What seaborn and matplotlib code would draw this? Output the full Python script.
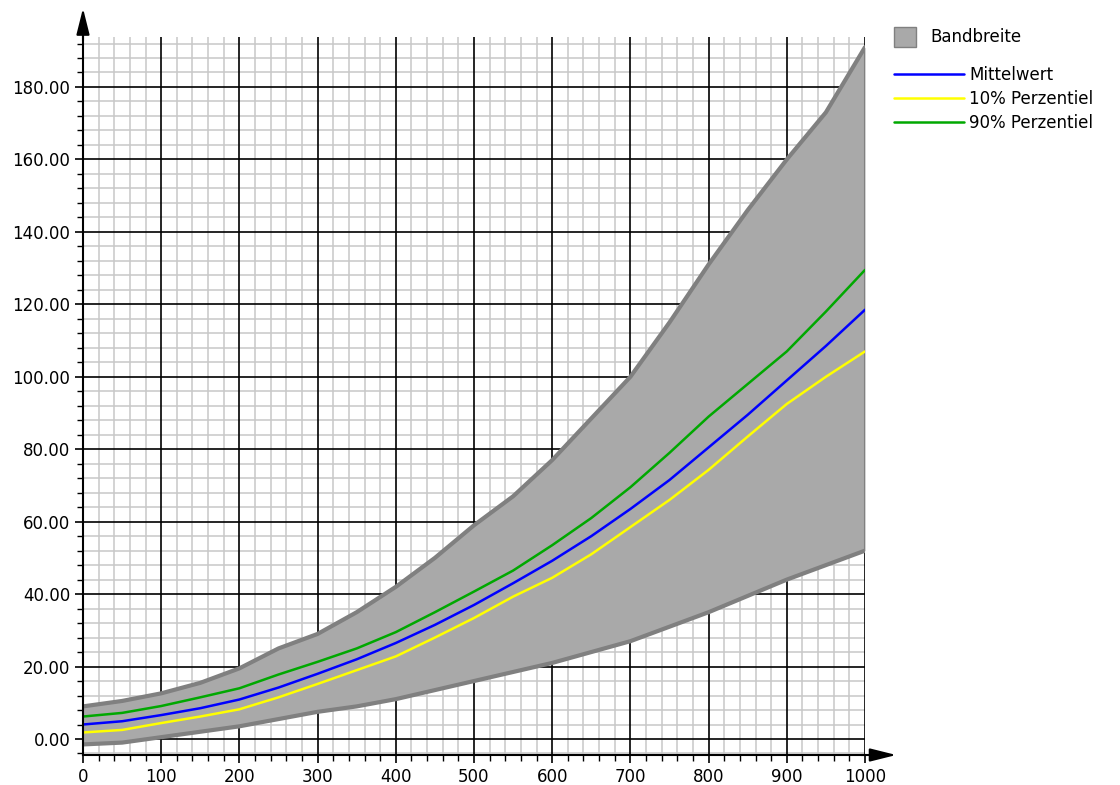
import numpy as np
import pandas as pd
import matplotlib
matplotlib.use("Agg")
import matplotlib.pyplot as plt
from matplotlib.ticker import MultipleLocator, FormatStrFormatter
from matplotlib.patches import Patch
from matplotlib.lines import Line2D
import seaborn as sns

# ------------------------------------------ DATA ------------------------------------------#
x_vals = [0, 50, 100, 150, 200, 250, 300, 350, 400, 450, 500,
          550, 600, 650, 700, 750, 800, 850, 900, 950, 1000]
mittelwert = [4.0, 4.9, 6.6, 8.5, 10.9, 14.2, 18.0, 22.0, 26.5, 31.5, 37.0,
              43.0, 49.2, 56.0, 63.5, 71.5, 80.5, 89.5, 99.0, 108.5, 118.5]
perz_90 = [6.2, 7.2, 9.1, 11.5, 14.0, 17.8, 21.3, 25.0, 29.5, 35.0, 40.7,
           46.5, 53.5, 61.0, 69.5, 79.0, 89.0, 98.0, 107.0, 118.0, 129.5]
perz_10 = [1.8, 2.5, 4.4, 6.2, 8.2, 11.5, 15.2, 19.0, 22.8, 28.0, 33.4,
           39.3, 44.5, 51.0, 58.5, 66.0, 74.3, 83.5, 92.5, 100.0, 107.0]
band_max = [9.0, 10.5, 12.6, 15.5, 19.5, 25.0, 29.0, 35.0, 42.0, 50.0, 59.0,
            67.0, 77.0, 88.5, 100.0, 115.0, 131.0, 146.0, 160.0, 173.0, 191.0]
band_min = [-1.5, -1.0, 0.5, 2.0, 3.5, 5.5, 7.5, 9.0, 11.0, 13.5, 16.0,
            18.5, 21.0, 24.0, 27.0, 31.0, 35.0, 39.5, 44.0, 48.0, 52.0]

series_names = ["Mittelwert", "10% Perzentiel", "90% Perzentiel"]
series_colors = {"Mittelwert": "#0000ff", "10% Perzentiel": "#ffff00", "90% Perzentiel": "#00a800"}


def build_long_df():
    frames = []
    for name, vals in zip(series_names, [mittelwert, perz_10, perz_90]):
        frames.append(pd.DataFrame({"x": x_vals, "y": vals, "serie": name}))
    return pd.concat(frames, ignore_index=True)


def main():
    sns.set_style("white")
    plt.rcParams["font.family"] = ["DejaVu Sans"]

    fig = plt.figure(figsize=(11.2, 7.85), dpi=100)
    ax = fig.add_axes([83 / 1120, 1 - 755 / 785, (865 - 83) / 1120, (755 - 37) / 785])

    ax.set_xlim(0, 1000)
    ax.set_ylim(-4.42, 193.8)
    ax.xaxis.set_major_locator(MultipleLocator(100))
    ax.xaxis.set_minor_locator(MultipleLocator(20))
    ax.yaxis.set_major_locator(MultipleLocator(20))
    ax.yaxis.set_minor_locator(MultipleLocator(4))
    ax.yaxis.set_major_formatter(FormatStrFormatter("%.2f"))

    # grid: light minor grid, black major lines on top of it (but under the band)
    ax.set_axisbelow(True)
    ax.grid(which="minor", color="#c8c8c8", lw=1.1)
    ax.grid(which="major", visible=False)
    for v in np.arange(0, 1001, 100):
        ax.axvline(v, color="black", lw=1.2, zorder=1)
    for v in np.arange(0, 181, 20):
        ax.axhline(v, color="black", lw=1.2, zorder=1)

    # band
    ax.fill_between(x_vals, band_min, band_max, color="#a9a9a9", lw=0, zorder=2)
    ax.plot(x_vals, band_max, color="#808080", lw=3, zorder=3)
    ax.plot(x_vals, band_min, color="#808080", lw=3, zorder=3)
    ax.plot([1000, 1000], [band_min[-1], band_max[-1]], color="#808080", lw=1.5, zorder=3)

    df = build_long_df()
    sns.lineplot(data=df, x="x", y="y", hue="serie", palette=series_colors,
                 hue_order=["90% Perzentiel", "10% Perzentiel", "Mittelwert"],
                 linewidth=1.8, ax=ax, legend=False, zorder=4)

    for s in ["top", "right"]:
        ax.spines[s].set_visible(False)
    for s in ["left", "bottom"]:
        ax.spines[s].set_color("black")
        ax.spines[s].set_linewidth(1.5)
        ax.spines[s].set_zorder(5)

    ax.tick_params(which="major", direction="out", length=6, width=1.2, color="black",
                   labelsize=12, labelcolor="black", pad=3, left=True, bottom=True)
    ax.tick_params(which="minor", direction="out", length=4, width=1.0, color="black",
                   left=True, bottom=True)
    ax.set_xlabel("")
    ax.set_ylabel("")

    # axis arrows
    ax.annotate("", xy=(0, 1.04), xytext=(0, 0.995), xycoords="axes fraction",
                arrowprops=dict(arrowstyle="-|>,head_length=1.6,head_width=0.4",
                                color="black", lw=1.5, shrinkA=0, shrinkB=0))
    ax.annotate("", xy=(1.04, 0), xytext=(0.995, 0), xycoords="axes fraction",
                arrowprops=dict(arrowstyle="-|>,head_length=1.6,head_width=0.4",
                                color="black", lw=1.5, shrinkA=0, shrinkB=0))

    # legend
    h_band = [Patch(facecolor="#a9a9a9", edgecolor="#808080", label="Bandbreite")]
    fig.legend(handles=h_band, loc="upper left", bbox_to_anchor=(0.785, 0.985),
               frameon=False, fontsize=12, labelcolor="black",
               handlelength=1.3, handleheight=1.5, handletextpad=0.9)
    h_lines = [Line2D([0], [0], color=series_colors[n], lw=1.8, label=n) for n in series_names]
    fig.legend(handles=h_lines, loc="upper left", bbox_to_anchor=(0.785, 0.935),
               frameon=False, fontsize=12, labelcolor="black",
               handlelength=4.2, handletextpad=0.3, labelspacing=0.35)

    plt.savefig("out.png", dpi=100)
    plt.close()


if __name__ == '__main__':
    main()
